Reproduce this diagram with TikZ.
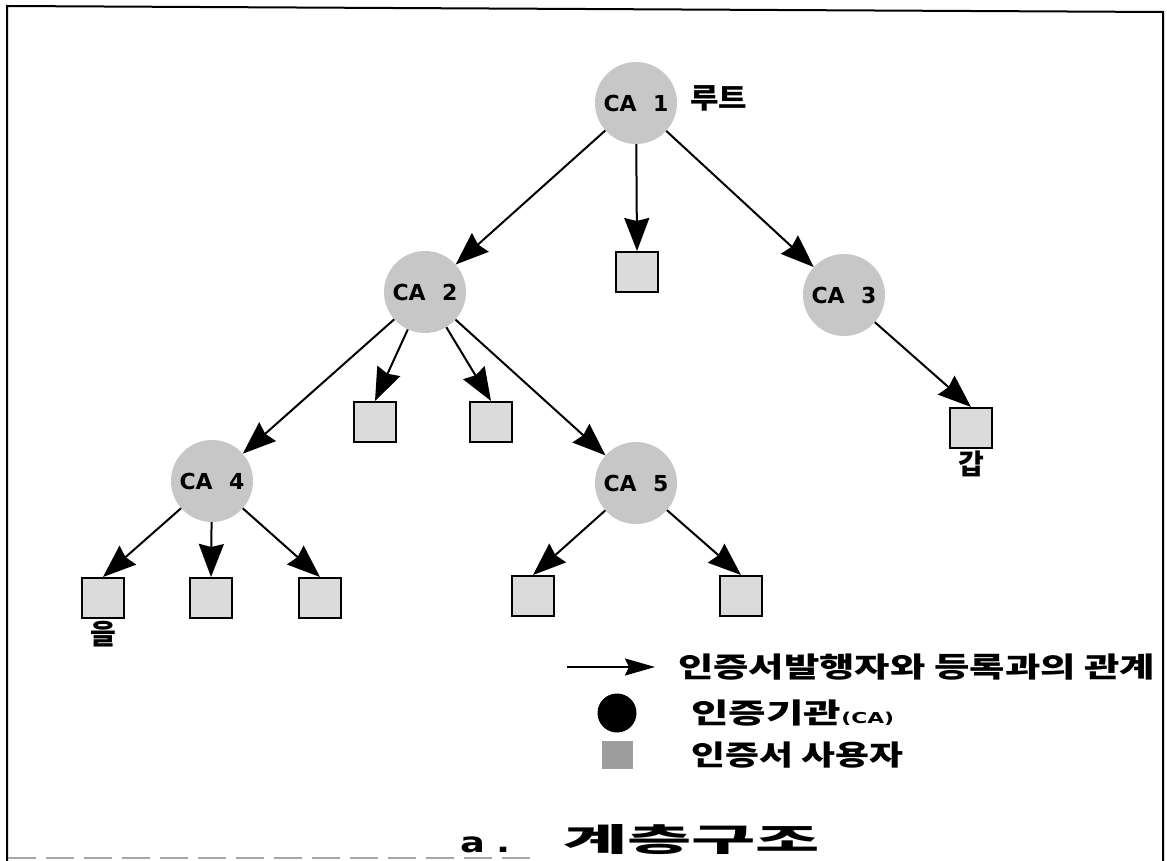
\documentclass[tikz,border=0pt]{standalone}
\usepackage{fontspec}
\usetikzlibrary{arrows.meta}
\newfontfamily\kr{Noto Sans CJK KR}
\newfontfamily\lat{DejaVu Sans}
\newcommand\fitw[2]{\resizebox{#1}{\height}{#2}}
\begin{document}
\begin{tikzpicture}[x=1pt,y=-1pt,
  ca/.style={circle, fill=black!22, minimum size=82pt, inner sep=0pt, font=\lat\bfseries\fontsize{22}{22}\selectfont},
  user/.style={draw=black, line width=2pt, fill=black!14, minimum width=42pt, minimum height=40pt, inner sep=0pt},
  rel/.style={line width=2pt, -{Stealth[length=33pt,width=25pt,inset=3pt]}},
  legrel/.style={line width=2pt, -{Stealth[length=30pt,width=17pt,inset=4pt]}},
  lbl/.style={font=\kr\bfseries\fontsize{28}{28}\selectfont, inner sep=0pt},
  legsq/.style={fill=black!38, minimum width=31pt, minimum height=28pt, inner sep=0pt},
  legdot/.style={circle, fill=black, minimum size=39pt, inner sep=0pt},
  frame/.style={line width=2pt}
]
\useasboundingbox (0,0) rectangle (1167,861);
\fill[white] (0,0) rectangle (1167,861);

% frame
\draw[frame] (7,861) -- (7,6) -- (1163,12) -- (1163,861);
\draw[black!35, line width=2.5pt, dash pattern=on 28pt off 10pt] (8,858) -- (535,858);

% CA nodes
\node[ca] (ca1) at (636,103) {CA\hspace{0.75em}1};
\node[ca] (ca2) at (425,292) {CA\hspace{0.75em}2};
\node[ca] (ca3) at (844,295) {CA\hspace{0.75em}3};
\node[ca] (ca4) at (212,481) {CA\hspace{0.75em}4};
\node[ca] (ca5) at (636,483) {CA\hspace{0.75em}5};

% users
\node[user] (s1) at (637,272) {};
\node[user] (s3) at (971,428) {};
\node[user] (s21) at (375,422) {};
\node[user] (s22) at (491,422) {};
\node[user] (s41) at (103,598) {};
\node[user] (s42) at (211,598) {};
\node[user] (s43) at (320,598) {};
\node[user] (s51) at (533,596) {};
\node[user] (s52) at (741,596) {};

% relations
\draw[rel] (ca1) -- (ca2);
\draw[rel] (ca1) -- (s1.north);
\draw[rel] (ca1) -- (ca3);
\draw[rel] (ca2) -- (s21.north);
\draw[rel] (ca2) -- (s22.north);
\draw[rel] (ca2) -- (ca4);
\draw[rel] (ca2) -- (ca5);
\draw[rel] (ca3) -- (s3.north);
\draw[rel] (ca4) -- (s41.north);
\draw[rel] (ca4) -- (s42.north);
\draw[rel] (ca4) -- (s43.north);
\draw[rel] (ca5) -- (s51.north);
\draw[rel] (ca5) -- (s52.north);

% labels
\node[lbl, anchor=west] (root) at (690,98) {\fitw{57pt}{루트}};
\node[lbl] (gap) at (971,464) {갑};
\node[lbl] (eul) at (103,634) {을};

% legend
\coordinate (la) at (567,667);
\coordinate (lb) at (655,667);
\draw[legrel] (la) -- (lb);
\node[lbl, anchor=west] (t1) at (678,667) {\fitw{477pt}{인증서발행자와 등록과의 관계}};
\node[legdot] (ld) at (617,713) {};
\node[lbl, anchor=west] (t2) at (691,713) {\fitw{203pt}{인증기관{\lat\bfseries\fontsize{15}{15}\selectfont (CA)}}};
\node[legsq] (ls) at (617,755) {};
\node[lbl, anchor=west] (t3) at (691,755) {\fitw{212pt}{인증서 사용자}};

% title
\node[anchor=base west, font=\lat\bfseries\fontsize{28}{28}\selectfont, inner sep=0pt] (ta) at (460,852) {\fitw{50pt}{a\hspace{0.3em}.}};
\node[anchor=west, font=\kr\bfseries\fontsize{32}{32}\selectfont, inner sep=0pt] (title) at (563,840) {\fitw{257pt}{계층구조}};
\end{tikzpicture}
\end{document}
